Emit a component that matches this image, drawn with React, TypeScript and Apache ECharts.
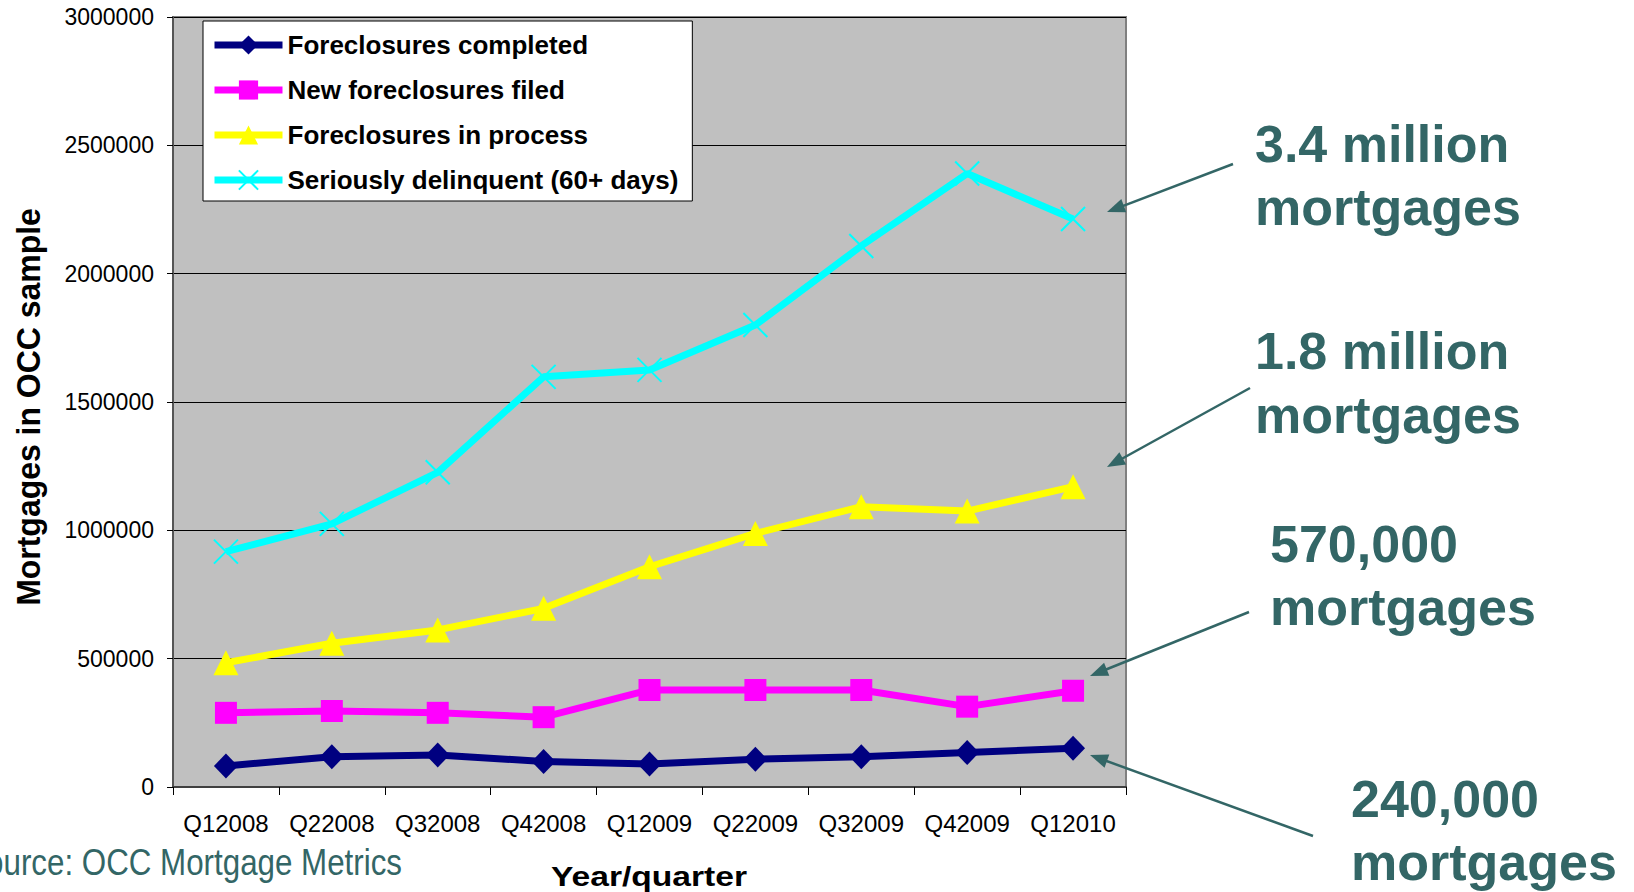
import React, { useEffect, useRef } from "react";
import * as echarts from "echarts";

// Quarterly mortgage counts in the OCC sample
const quarters = ["Q12008", "Q22008", "Q32008", "Q42008", "Q12009", "Q22009", "Q32009", "Q42009", "Q12010"];
const foreclosuresCompleted = [82000, 118000, 125000, 99000, 90000, 108000, 118000, 134000, 151000];
const newForeclosuresFiled = [289000, 296000, 289000, 272000, 378000, 378000, 378000, 313000, 375000];
const foreclosuresInProcess = [484000, 560000, 612000, 696000, 858000, 988000, 1092000, 1075000, 1170000];
const seriouslyDelinquent = [917000, 1025000, 1226000, 1598000, 1625000, 1800000, 2108000, 2390000, 2213000];

const yTicks = { min: 0, max: 3000000, interval: 500000 };

// Call-out captions, first and second line
const calloutLines = [
  ["3.4 million", "mortgages"],
  ["1.8 million", "mortgages"],
  ["570,000", "mortgages"],
  ["240,000", "mortgages"],
];

const FONT = "'Liberation Sans', Arial, Helvetica, sans-serif";
const TEAL = "#336666";

function arrow(x1: number, y1: number, x2: number, y2: number) {
  const dx = x2 - x1;
  const dy = y2 - y1;
  const len = Math.sqrt(dx * dx + dy * dy);
  const ux = dx / len;
  const uy = dy / len;
  const nx = -uy;
  const ny = ux;
  const headLen = 18;
  const headHalf = 7;
  const bx = x2 - ux * headLen;
  const by = y2 - uy * headLen;
  return [
    {
      type: "line",
      shape: { x1, y1, x2: bx + ux * 2, y2: by + uy * 2 },
      style: { stroke: TEAL, lineWidth: 2.5 },
      silent: true,
    },
    {
      type: "polygon",
      shape: {
        points: [
          [x2, y2],
          [bx + nx * headHalf, by + ny * headHalf],
          [bx - nx * headHalf, by - ny * headHalf],
        ],
      },
      style: { fill: TEAL },
      silent: true,
    },
  ];
}

function calloutText(text: string, x: number, y: number) {
  return {
    type: "text",
    x,
    y,
    silent: true,
    style: {
      text,
      fill: TEAL,
      font: `bold 52px ${FONT}`,
      textAlign: "left",
      textVerticalAlign: "middle",
    },
  };
}

export default function App() {
  const ref = useRef<HTMLDivElement>(null);

  useEffect(() => {
    if (!ref.current) return;
    const chart = echarts.init(ref.current, null, { renderer: "svg" });

    const calloutAnchors = [
      { x: 1255, y1: 144, y2: 207 },
      { x: 1255, y1: 351, y2: 415 },
      { x: 1270, y1: 544, y2: 607 },
      { x: 1351, y1: 799, y2: 862 },
    ];

    const graphic: any[] = [];
    calloutLines.forEach((lines, i) => {
      const a = calloutAnchors[i];
      graphic.push(calloutText(lines[0], a.x, a.y1));
      graphic.push(calloutText(lines[1], a.x, a.y2));
    });
    graphic.push(...arrow(1233, 164, 1107, 212));
    graphic.push(...arrow(1250, 388, 1107, 467));
    graphic.push(...arrow(1249, 612, 1090, 676));
    graphic.push(...arrow(1313, 836, 1090, 755));

    // Source note, clipped at the left edge
    graphic.push({
      type: "text",
      x: 402,
      y: 862,
      scaleX: 0.87,
      silent: true,
      style: {
        text: "Source: OCC Mortgage Metrics",
        fill: TEAL,
        font: `36px ${FONT}`,
        textAlign: "right",
        textVerticalAlign: "middle",
      },
    });
    // Axis titles
    graphic.push({
      type: "text",
      x: 649,
      y: 876,
      scaleX: 1.2,
      silent: true,
      style: {
        text: "Year/quarter",
        fill: "#000",
        font: `bold 28px ${FONT}`,
        textAlign: "center",
        textVerticalAlign: "middle",
      },
    });
    graphic.push({
      type: "text",
      x: 28,
      y: 407,
      rotation: Math.PI / 2,
      scaleX: 0.94,
      silent: true,
      style: {
        text: "Mortgages in OCC sample",
        fill: "#000",
        font: `bold 34px ${FONT}`,
        textAlign: "center",
        textVerticalAlign: "middle",
      },
    });

    const lineSeries = (
      name: string,
      data: number[],
      color: string,
      symbol: string,
      symbolSize: number | number[],
      borderWidth = 0
    ) => ({
      name,
      type: "line",
      data,
      symbol,
      symbolSize,
      showSymbol: true,
      lineStyle: { color, width: 7 },
      itemStyle: { color, borderColor: color, borderWidth },
      emphasis: { disabled: true },
      z: 3,
    });

    chart.setOption({
      animation: false,
      textStyle: { fontFamily: FONT },
      grid: {
        left: 173,
        right: 508,
        top: 17,
        bottom: 105,
        show: true,
        backgroundColor: "#C0C0C0",
        borderColor: "#808080",
        borderWidth: 2,
      },
      legend: {
        orient: "vertical",
        left: 203,
        top: 21,
        padding: [11, 14, 8, 8],
        itemWidth: 68,
        itemHeight: 24,
        itemGap: 19,
        backgroundColor: "#FFFFFF",
        borderColor: "#000000",
        borderWidth: 1,
        selectedMode: false,
        textStyle: { fontFamily: FONT, fontSize: 26, fontWeight: "bold", color: "#000" },
        lineStyle: { width: 7 },
        data: [
          "Foreclosures completed",
          "New foreclosures filed",
          "Foreclosures in process",
          "Seriously delinquent (60+ days)",
        ],
      },
      xAxis: {
        type: "category",
        data: quarters,
        boundaryGap: true,
        axisLine: { show: true, lineStyle: { color: "#404040", width: 2 } },
        axisTick: { show: true, length: 8, lineStyle: { color: "#000" } },
        axisLabel: { color: "#000", fontSize: 24, fontFamily: FONT, margin: 24, interval: 0 },
        splitLine: { show: false },
      },
      yAxis: {
        type: "value",
        min: yTicks.min,
        max: yTicks.max,
        interval: yTicks.interval,
        axisLine: { show: true, lineStyle: { color: "#555", width: 2 } },
        axisTick: { show: true, length: 6, lineStyle: { color: "#000" } },
        axisLabel: {
          color: "#000",
          fontSize: 23,
          fontFamily: FONT,
          margin: 19,
          formatter: (v: number) => String(v),
        },
        splitLine: { show: true, lineStyle: { color: "#000", width: 1 } },
      },
      series: [
        lineSeries("Foreclosures completed", foreclosuresCompleted, "#000080", "diamond", [24, 25]),
        lineSeries("New foreclosures filed", newForeclosuresFiled, "#FF00FF", "rect", 22),
        lineSeries("Foreclosures in process", foreclosuresInProcess, "#FFFF00", "triangle", 25),
        lineSeries(
          "Seriously delinquent (60+ days)",
          seriouslyDelinquent,
          "#00FFFF",
          "path://M0,0L10,10M10,0L0,10",
          24,
          2
        ),
      ],
      graphic,
    });

    return () => chart.dispose();
  }, []);

  return (
    <div
      ref={ref}
      style={{ position: "absolute", left: 0, top: 0, width: 1634, height: 892, background: "#fff" }}
    />
  );
}
